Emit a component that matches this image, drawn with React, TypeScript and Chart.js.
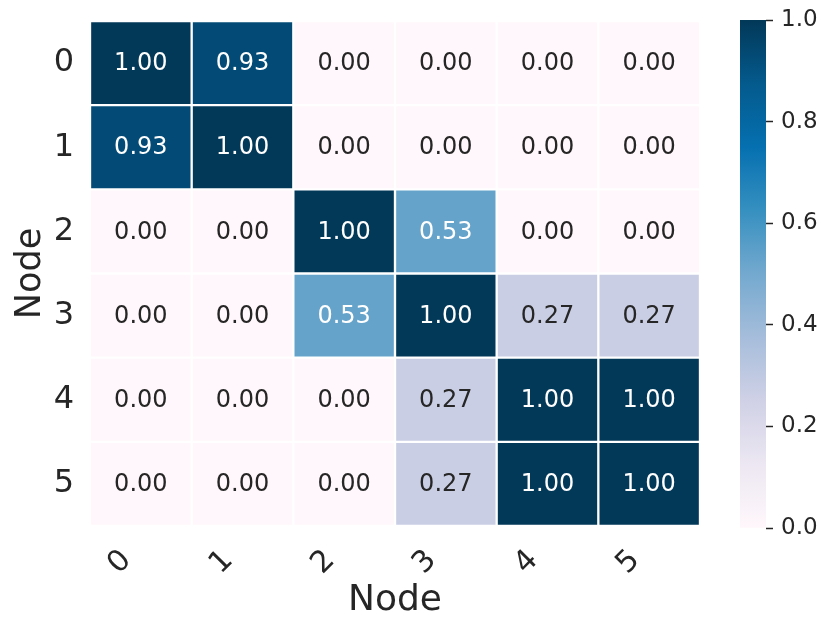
import React, { useEffect, useRef } from "react";
import { Chart, registerables } from "chart.js";
Chart.register(...registerables);

const nodeLabels = ["0", "1", "2", "3", "4", "5"];
const row0 = [1.0, 0.93, 0.0, 0.0, 0.0, 0.0];
const row1 = [0.93, 1.0, 0.0, 0.0, 0.0, 0.0];
const row2 = [0.0, 0.0, 1.0, 0.53, 0.0, 0.0];
const row3 = [0.0, 0.0, 0.53, 1.0, 0.27, 0.27];
const row4 = [0.0, 0.0, 0.0, 0.27, 1.0, 1.0];
const row5 = [0.0, 0.0, 0.0, 0.27, 1.0, 1.0];
const matrix = [row0, row1, row2, row3, row4, row5];
const colorbarTicks = [0.0, 0.2, 0.4, 0.6, 0.8, 1.0];
const xTitle = "Node";
const yTitle = "Node";

const FONT = "DejaVu Sans";
const DARK = "#262626";
const PUBU = ["#fff7fb", "#ece7f2", "#d0d1e6", "#a6bddb", "#74a9cf", "#3690c0", "#0570b0", "#045a8d", "#023858"];

function hexToRgb(h: string) {
  return [parseInt(h.slice(1, 3), 16), parseInt(h.slice(3, 5), 16), parseInt(h.slice(5, 7), 16)];
}
function pubuRgb(v: number) {
  const t = Math.max(0, Math.min(1, v)) * (PUBU.length - 1);
  const i = Math.min(PUBU.length - 2, Math.floor(t));
  const f = t - i;
  const a = hexToRgb(PUBU[i]);
  const b = hexToRgb(PUBU[i + 1]);
  return a.map((c, k) => Math.round(c + (b[k] - c) * f));
}
function pubu(v: number) {
  const [r, g, b] = pubuRgb(v);
  return `rgb(${r},${g},${b})`;
}
function textColor(v: number) {
  const lin = pubuRgb(v).map((c) => {
    const s = c / 255;
    return s <= 0.03928 ? s / 12.92 : Math.pow((s + 0.055) / 1.055, 2.4);
  });
  const lum = 0.2126 * lin[0] + 0.7152 * lin[1] + 0.0722 * lin[2];
  return lum > 0.408 ? DARK : "#ffffff";
}

const annotate = {
  id: "annotate",
  afterDatasetsDraw(chart: any) {
    const ctx = chart.ctx;
    ctx.save();
    ctx.font = `24px "${FONT}"`;
    ctx.textAlign = "center";
    ctx.textBaseline = "middle";
    matrix.forEach((row, r) => {
      const meta = chart.getDatasetMeta(r);
      meta.data.forEach((bar: any, c: number) => {
        const v = row[c];
        const p = bar.getCenterPoint();
        ctx.fillStyle = textColor(v);
        ctx.fillText(v.toFixed(2), p.x, p.y + 1);
      });
    });
    ctx.restore();
  },
};

export default function App() {
  const mainRef = useRef<HTMLCanvasElement>(null);
  const cbRef = useRef<HTMLCanvasElement>(null);

  useEffect(() => {
    Chart.defaults.font.family = FONT;
    const main = new Chart(mainRef.current!, {
      type: "bar",
      data: {
        labels: nodeLabels,
        datasets: matrix.map((row, r) => ({
          data: row.map(() => [r, r + 1]),
          backgroundColor: row.map(pubu),
          borderColor: "#ffffff",
          borderWidth: 1.5,
          borderSkipped: false,
          grouped: false,
          barPercentage: 1,
          categoryPercentage: 1,
        })),
      } as any,
      options: {
        responsive: false,
        animation: false,
        layout: { padding: { top: 21, right: 130, left: 0, bottom: 0 } },
        plugins: { legend: { display: false }, tooltip: { enabled: false } },
        scales: {
          x: {
            type: "category",
            grid: { display: false, drawTicks: false },
            border: { display: false },
            ticks: {
              font: { size: 30, family: FONT },
              color: DARK,
              minRotation: 45,
              maxRotation: 45,
              padding: 17,
              labelOffset: -14,
            },
            title: {
              display: true,
              text: xTitle,
              color: DARK,
              font: { size: 36, family: FONT },
              padding: { top: 0, bottom: 11 },
            },
            afterFit(s: any) {
              s.height = 107;
              s.paddingLeft = 0;
              s.paddingRight = 0;
            },
          },
          y: {
            type: "linear",
            min: 0,
            max: 6,
            reverse: true,
            grid: { display: false, drawTicks: false },
            border: { display: false },
            afterBuildTicks(s: any) {
              s.ticks = nodeLabels.map((_, i) => ({ value: i + 0.5 }));
            },
            ticks: {
              font: { size: 32, family: FONT },
              color: DARK,
              padding: 16,
              callback: (v: any) => nodeLabels[Math.floor(Number(v))],
            },
            title: {
              display: true,
              text: yTitle,
              color: DARK,
              font: { size: 35, family: FONT },
              padding: 10,
            },
            afterFit(s: any) {
              s.width = 90;
              s.paddingTop = 0;
              s.paddingBottom = 0;
            },
          },
        },
      } as any,
      plugins: [annotate],
    });

    const cb = new Chart(cbRef.current!, {
      type: "bar",
      data: {
        labels: [""],
        datasets: [
          {
            data: [[0, 1]],
            barPercentage: 1,
            categoryPercentage: 1,
            borderWidth: 0,
            backgroundColor: (ctx: any) => {
              const area = ctx.chart.chartArea;
              if (!area) return PUBU[4];
              const g = ctx.chart.ctx.createLinearGradient(0, area.bottom, 0, area.top);
              PUBU.forEach((c, i) => g.addColorStop(i / (PUBU.length - 1), c));
              return g;
            },
          },
        ],
      } as any,
      options: {
        responsive: false,
        animation: false,
        layout: { padding: { top: 20, bottom: 105, left: 40, right: 0 } },
        plugins: { legend: { display: false }, tooltip: { enabled: false } },
        scales: {
          x: { display: false },
          y: {
            position: "right",
            min: 0,
            max: 1,
            grid: { drawOnChartArea: false, drawTicks: true, tickLength: 7, tickColor: DARK, tickWidth: 1.5 },
            border: { display: false },
            afterBuildTicks(s: any) {
              s.ticks = colorbarTicks.map((v) => ({ value: v }));
            },
            ticks: {
              font: { size: 23, family: FONT },
              color: DARK,
              padding: 8,
              callback: (v: any) => Number(v).toFixed(1),
            },
            afterFit(s: any) {
              s.width = 64;
              s.paddingTop = 0;
              s.paddingBottom = 0;
            },
          },
        },
      } as any,
    });

    return () => {
      main.destroy();
      cb.destroy();
    };
  }, []);

  return (
    <div style={{ position: "fixed", left: 0, top: 0, width: 830, height: 633, background: "#fff" }}>
      <canvas ref={mainRef} width={830} height={633} style={{ position: "absolute", left: 0, top: 0 }} />
      <canvas ref={cbRef} width={130} height={633} style={{ position: "absolute", left: 700, top: 0 }} />
    </div>
  );
}
